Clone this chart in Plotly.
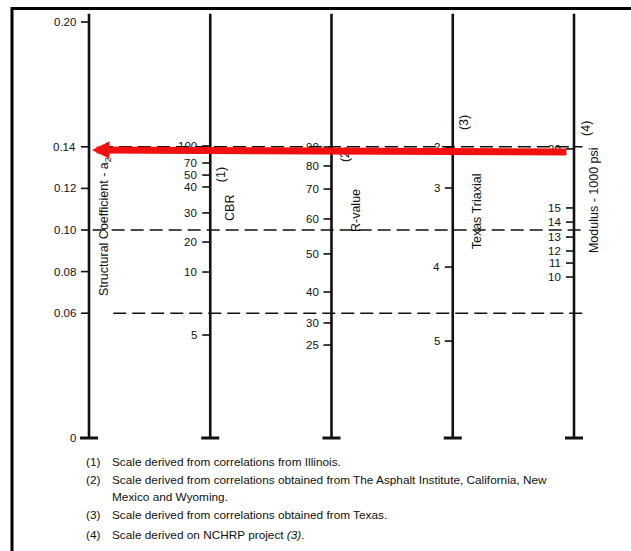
import plotly.graph_objects as go

# Scale 0: structural coefficient (linear, used as the vertical coordinate)
a_ticks = [0.20, 0.14, 0.12, 0.10, 0.08, 0.06, 0.0]
a_labels = ["0.20", "0.14", "0.12", "0.10", "0.08", "0.06", "0"]

# Scale 1: CBR  (value -> equivalent structural coefficient position)
cbr_values = [100, 70, 50, 40, 30, 20, 10, 5]
cbr_pos = [0.1404, 0.1322, 0.1264, 0.1207, 0.1082, 0.0942, 0.0798, 0.0495]

# Scale 2: R-value
rvalue_values = [90, 80, 70, 60, 50, 40, 30, 25]
rvalue_pos = [0.1399, 0.1308, 0.1197, 0.1053, 0.0885, 0.0702, 0.0553, 0.0447]

# Scale 3: Texas Triaxial
texas_values = [2, 3, 4, 5]
texas_pos = [0.1399, 0.1202, 0.0822, 0.0466]

# Scale 4: Modulus - 1000 psi
modulus_values = [20, 15, 14, 13, 12, 11, 10]
modulus_pos = [0.1390, 0.1106, 0.1038, 0.0966, 0.0899, 0.0841, 0.0774]

# Horizontal dashed reference levels (structural coefficient)
dash_levels = [0.14, 0.10, 0.06]
dash_starts = [0.09, 0.03, 0.20]

# Example reading (red arrow): from modulus scale to coefficient scale
arrow_from = 0.1375
arrow_to = 0.1385

footnotes = [
    ("(1)", "Scale derived from correlations from Illinois."),
    ("(2)", "Scale derived from correlations obtained from The Asphalt Institute, California, New"),
    ("", "Mexico and Wyoming."),
    ("(3)", "Scale derived from correlations obtained from Texas."),
    ("(4)", "Scale derived on NCHRP project <i>(3)</i>."),
]

# ---------------- figure ----------------
W, H = 631, 551
PX_X = 121.25          # pixels per scale spacing
PX_Y = 2080.0          # pixels per unit of coefficient
X0, Y0 = 89, 438       # pixel of scale 0 / coefficient 0
xr = [-X0 / PX_X, (W - X0) / PX_X]
yr = [-(H - Y0) / PX_Y, Y0 / PX_Y]

FONT = "Arial"
INK = "#111111"
fig = go.Figure()

scales = [
    (0, a_ticks, a_labels),
    (1, cbr_pos, [str(v) for v in cbr_values]),
    (2, rvalue_pos, [str(v) for v in rvalue_values]),
    (3, texas_pos, [str(v) for v in texas_values]),
    (4, modulus_pos, [str(v) for v in modulus_values]),
]
a_top = 0.204
tick_len = 8 / PX_X
cap = 9 / PX_X
lab_off = 11 / PX_X

# dashed lines
for lev, xs in zip(dash_levels, dash_starts):
    fig.add_trace(go.Scatter(x=[xs, 4.07], y=[lev, lev], mode="lines",
                             line=dict(color=INK, width=1.5, dash="13px,6px"),
                             hoverinfo="skip", showlegend=False))

annotations = []
for xi, pos, labs in scales:
    # main vertical axis
    fig.add_trace(go.Scatter(x=[xi, xi], y=[0, a_top], mode="lines",
                             line=dict(color=INK, width=2.6),
                             hoverinfo="skip", showlegend=False))
    # bottom cap
    fig.add_trace(go.Scatter(x=[xi - cap, xi + cap], y=[0, 0], mode="lines",
                             line=dict(color=INK, width=3),
                             hoverinfo="skip", showlegend=False))
    tx, ty = [], []
    for p in pos:
        tx += [xi - tick_len, xi, None]
        ty += [p, p, None]
    fig.add_trace(go.Scatter(x=tx, y=ty, mode="lines",
                             line=dict(color=INK, width=1.6),
                             hoverinfo="skip", showlegend=False))
    for p, l in zip(pos, labs):
        annotations.append(dict(x=xi - lab_off, y=p, text=l, showarrow=False,
                                xanchor="right", yanchor="middle",
                                font=dict(family=FONT, size=11.5, color=INK)))

# rotated scale titles
titles = [
    (0.132, 0.1014, "Structural Coefficient - a<sub>2</sub>"),
    (1.089, 0.1264, "(1)"),
    (1.163, 0.1106, "CBR"),
    (2.111, 0.1365, "(2)"),
    (2.202, 0.1096, "R-value"),
    (3.093, 0.1514, "(3)"),
    (3.200, 0.1090, "Texas Triaxial"),
    (4.099, 0.1486, "(4)"),
    (4.165, 0.1144, "Modulus - 1000 psi"),
]
for x, y, t in titles:
    annotations.append(dict(x=x, y=y, text=t, showarrow=False, textangle=-90,
                            xanchor="center", yanchor="middle",
                            font=dict(family=FONT, size=12.5, color=INK)))

# footnotes
foot_y = [462, 480, 497, 515, 535]
for (num, txt), yp in zip(footnotes, foot_y):
    if num:
        annotations.append(dict(xref="paper", yref="paper", x=84 / W, y=1 - yp / H,
                                text=num, showarrow=False, xanchor="left",
                                yanchor="middle",
                                font=dict(family=FONT, size=11.8, color=INK)))
    annotations.append(dict(xref="paper", yref="paper", x=110 / W, y=1 - yp / H,
                            text=txt, showarrow=False, xanchor="left",
                            yanchor="middle",
                            font=dict(family=FONT, size=11.8, color=INK)))

# red arrow
annotations.append(dict(x=0.025, y=arrow_to, ax=3.95, ay=arrow_from,
                        xref="x", yref="y", axref="x", ayref="y",
                        text="", showarrow=True, arrowhead=2, arrowsize=0.5,
                        arrowwidth=7, arrowcolor="#f01010", standoff=0))

shapes = [
    dict(type="line", xref="paper", yref="paper", x0=12 / W, x1=1,
         y0=1 - 8.5 / H, y1=1 - 8.5 / H, line=dict(color="black", width=3)),
    dict(type="line", xref="paper", yref="paper", x0=12 / W, x1=12 / W,
         y0=0, y1=1 - 7 / H, line=dict(color="black", width=3)),
]

fig.update_layout(
    width=W, height=H, margin=dict(l=0, r=0, t=0, b=0),
    paper_bgcolor="white", plot_bgcolor="white",
    xaxis=dict(range=xr, visible=False, fixedrange=True),
    yaxis=dict(range=yr, visible=False, fixedrange=True),
    annotations=annotations, shapes=shapes, showlegend=False,
)

fig.write_html("out.html", config={"displayModeBar": False})
